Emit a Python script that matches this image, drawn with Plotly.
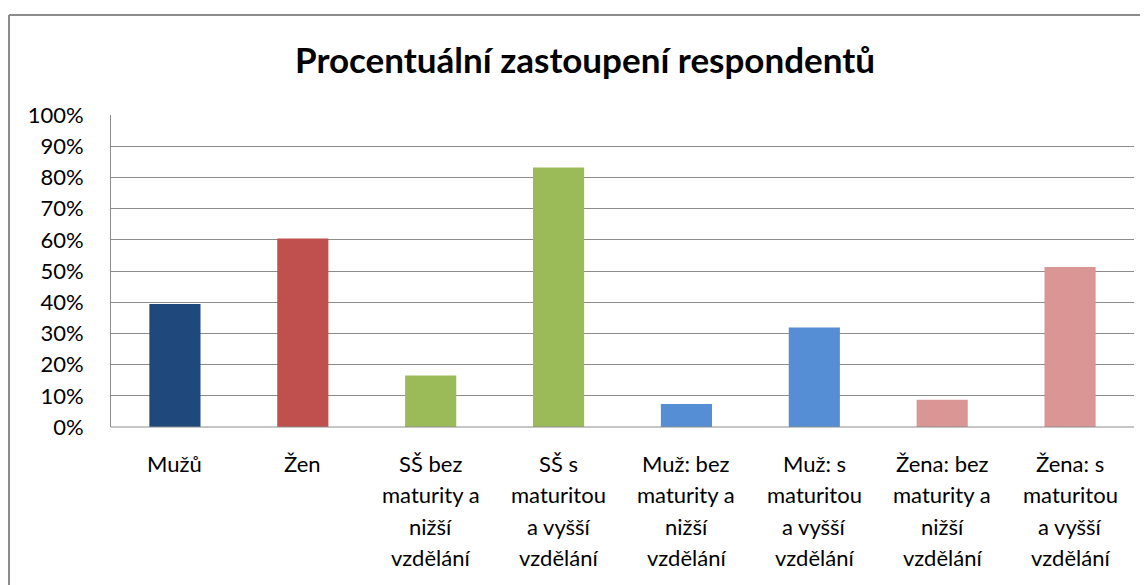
import plotly.graph_objects as go

categories = [
    "Mužů",
    "Žen",
    "SŠ bez<br>maturity a<br>nižší<br>vzdělání",
    "SŠ s<br>maturitou<br>a vyšší<br>vzdělání",
    "Muž: bez<br>maturity a<br>nižší<br>vzdělání",
    "Muž: s<br>maturitou<br>a vyšší<br>vzdělání",
    "Žena: bez<br>maturity a<br>nižší<br>vzdělání",
    "Žena: s<br>maturitou<br>a vyšší<br>vzdělání",
]
values = [0.394, 0.604, 0.165, 0.832, 0.074, 0.319, 0.087, 0.513]
colors = ["#1F497D", "#C0504D", "#9BBB59", "#9BBB59",
          "#558ED5", "#558ED5", "#D99694", "#D99694"]
tick_vals = [i / 10 for i in range(11)]
tick_text = [f"{i * 10}%" for i in range(11)]
title_text = "Procentuální zastoupení respondentů"

FONT = "Lato"
OFF = 8  # page body margin
W, H = 1148 - OFF, 585 - OFF
L, R, T, B = 111 - OFF, 14, 115 - OFF, 158
PW, PH = W - L - R, H - T - B

fig = go.Figure()
fig.add_trace(go.Bar(
    x=list(range(len(categories))), y=values,
    marker=dict(color=colors, line=dict(width=0)),
    width=0.4, hoverinfo="skip",
))

annotations = []
for i, lab in enumerate(categories):
    for j, line in enumerate(lab.split("<br>")):
        annotations.append(dict(
            x=i, xref="x", y=0, yref="paper", text=line, showarrow=False,
            xanchor="center", yanchor="middle", yshift=-(36 + j * 31.5),
            font=dict(family=FONT, size=22, color="#000000"),
        ))

border_x = (9 - OFF - L) / PW
border_y = (H - B - (15 - OFF)) / PH

fig.update_layout(
    width=W, height=H,
    margin=dict(l=L, r=R, t=T, b=B, pad=0),
    paper_bgcolor="white", plot_bgcolor="white",
    showlegend=False,
    title=dict(text=f"<b>{title_text}</b>", x=(585 - OFF - L) / PW, xref="paper",
               xanchor="center", y=1 - (61 - OFF) / H, yref="container", yanchor="middle",
               font=dict(family=FONT, size=35, color="#000000")),
    xaxis=dict(range=[-0.5, len(categories) - 0.5], showticklabels=False,
               showgrid=False, zeroline=False, showline=False, ticks=""),
    yaxis=dict(range=[0, 1], tickvals=tick_vals, ticktext=tick_text,
               showgrid=True, gridcolor="#8c8c8c", gridwidth=1,
               zeroline=False, showline=True, linecolor="#8c8c8c", linewidth=1,
               ticks="", ticklabelstandoff=22,
               tickfont=dict(family=FONT, size=22, color="#000000")),
    annotations=annotations,
    shapes=[
        dict(type="line", xref="paper", yref="paper",
             x0=border_x, x1=1.05, y0=border_y, y1=border_y,
             line=dict(color="#8c8c8c", width=2)),
        dict(type="line", xref="paper", yref="paper",
             x0=border_x, x1=border_x, y0=border_y, y1=-1,
             line=dict(color="#8c8c8c", width=2)),
        dict(type="line", xref="paper", yref="paper", x0=0, x1=1, y0=0, y1=0,
             line=dict(color="#8c8c8c", width=1), layer="above"),
    ],
)

fig.write_html("out.html")
